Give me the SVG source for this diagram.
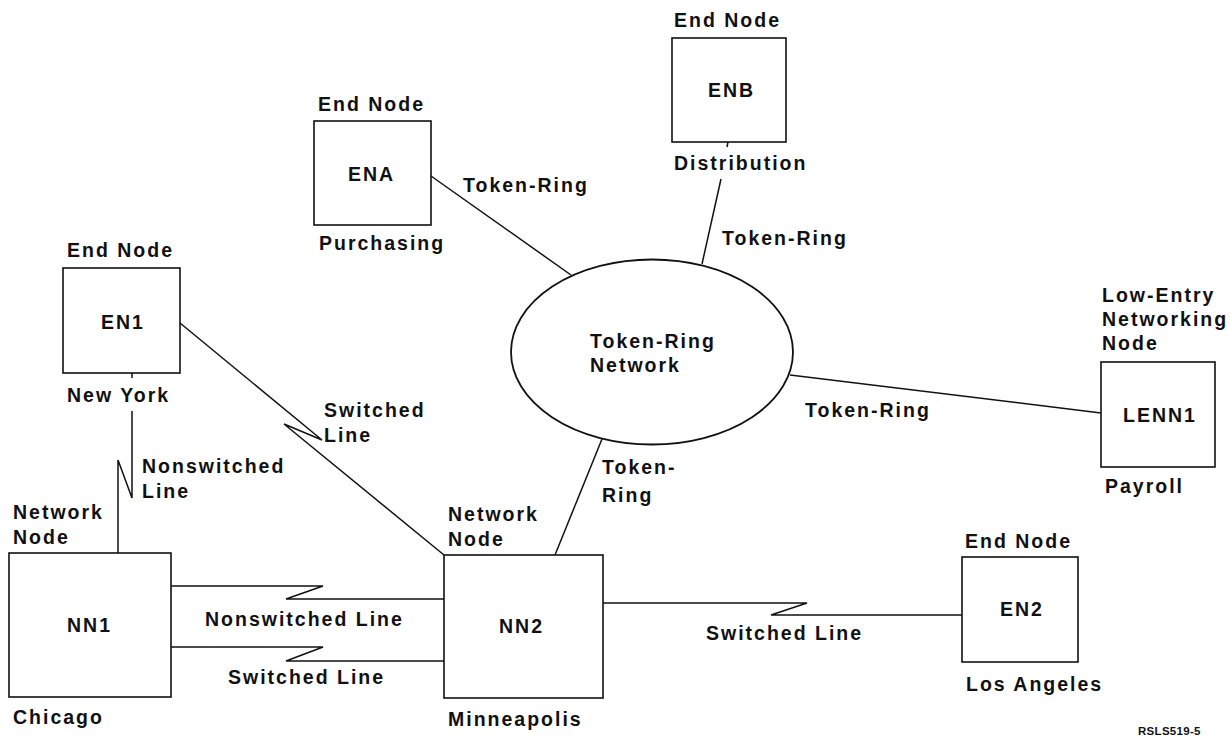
<svg xmlns="http://www.w3.org/2000/svg" width="1230" height="738" viewBox="0 0 1230 738">
<style>
text{font-family:"Liberation Sans",Arial,sans-serif;font-size:19.5px;font-weight:bold;letter-spacing:2px;fill:#111}
.box{fill:#fff;stroke:#111;stroke-width:1.6}
.ln{fill:none;stroke:#111;stroke-width:1.5;stroke-linejoin:miter}
.small{font-size:11.5px;letter-spacing:0.3px}
</style>
<rect width="1230" height="738" fill="#fff"/>
<g id="connectors">
<polyline class="ln" points="132,373 132,378"/>
<polyline class="ln" points="132,411 132,498 118,460 118,553"/>
<polyline class="ln" points="180,323 322,440 284,424 444,555"/>
<polyline class="ln" points="171,586 323,586 286,599 444,599"/>
<polyline class="ln" points="171,647 323,647 286,661 444,661"/>
<polyline class="ln" points="603,603 807,603 771,615 962,615"/>
<polyline class="ln" points="555,555 602,439"/>
<polyline class="ln" points="431,176 571,275"/>
<polyline class="ln" points="728,142 727,147"/>
<polyline class="ln" points="721,179 702,264"/>
<polyline class="ln" points="790,375 1101,413"/>
<text x="142" y="473">Nonswitched</text>
<text x="142" y="498">Line</text>
<text x="324" y="417">Switched</text>
<text x="324" y="442">Line</text>
<text x="205" y="626">Nonswitched Line</text>
<text x="228" y="684">Switched Line</text>
<text x="706" y="640">Switched Line</text>
<text x="602" y="474">Token-</text>
<text x="602" y="502">Ring</text>
<text x="463" y="192">Token-Ring</text>
<text x="722" y="245">Token-Ring</text>
<text x="805" y="417">Token-Ring</text>
</g>
<g id="ring">
<ellipse cx="652" cy="352" rx="141" ry="92.5" fill="#fff" stroke="#111" stroke-width="1.8"/>
<text x="590" y="348">Token-Ring</text>
<text x="590" y="372">Network</text>
</g>
<g id="EN1">
<text x="67" y="257">End Node</text>
<rect class="box" x="63" y="268" width="117" height="105"/>
<text x="101" y="329">EN1</text>
<text x="67" y="402">New York</text>
</g>
<g id="NN1">
<text x="13" y="519">Network</text>
<text x="13" y="544">Node</text>
<rect class="box" x="9" y="553" width="162" height="144"/>
<text x="67" y="632">NN1</text>
<text x="13" y="724">Chicago</text>
</g>
<g id="NN2">
<text x="448" y="521">Network</text>
<text x="448" y="546">Node</text>
<rect class="box" x="444" y="555" width="159" height="143"/>
<text x="499" y="633">NN2</text>
<text x="448" y="726">Minneapolis</text>
</g>
<g id="EN2">
<text x="965" y="548">End Node</text>
<rect class="box" x="962" y="557" width="116" height="105"/>
<text x="1000" y="616">EN2</text>
<text x="966" y="691">Los Angeles</text>
</g>
<g id="ENA">
<text x="318" y="111">End Node</text>
<rect class="box" x="314" y="121" width="117" height="104"/>
<text x="348" y="181">ENA</text>
<text x="319" y="250">Purchasing</text>
</g>
<g id="ENB">
<text x="674" y="27">End Node</text>
<rect class="box" x="672" y="38" width="114" height="104"/>
<text x="708" y="97">ENB</text>
<text x="674" y="170">Distribution</text>
</g>
<g id="LENN1">
<text x="1102" y="302">Low-Entry</text>
<text x="1102" y="326">Networking</text>
<text x="1102" y="350">Node</text>
<rect class="box" x="1101" y="362" width="114" height="105"/>
<text x="1123" y="422">LENN1</text>
<text x="1105" y="493">Payroll</text>
</g>
<text class="small" x="1138" y="735">RSLS519-5</text>
</svg>
